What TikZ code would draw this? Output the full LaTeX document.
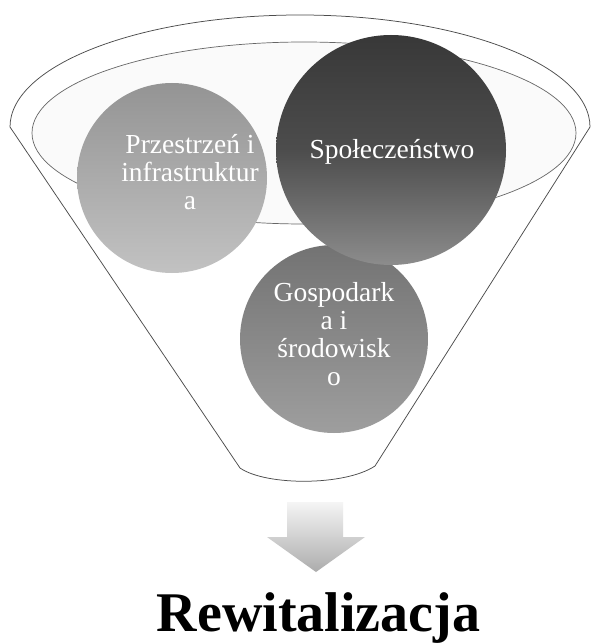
\documentclass[tikz,border=0pt]{standalone}
\usepackage{fontspec}
\setmainfont{Liberation Serif}
\begin{document}
\begin{tikzpicture}[x=1pt,y=-1pt,
  funnelline/.style={draw=black!70, line width=0.75pt},
  rimline/.style={draw=black!60, line width=0.7pt, fill=gray!4},
  ball/.style={circle, minimum size=#1, inner sep=0pt, draw=none},
  balltext/.style={text=white, font=\fontsize{27.5}{28}\selectfont, align=center, inner sep=0pt},
  titletext/.style={font=\bfseries\fontsize{56}{60}\selectfont, text=black, inner sep=0pt},
]
\useasboundingbox (0,0) rectangle (592,644);
\fill[white] (0,0) rectangle (592,644);
% funnel body
\coordinate (L) at (10,127);
\coordinate (R) at (590,127);
\coordinate (BL) at (240,468);
\coordinate (BR) at (375,466);
\draw[funnelline, fill=white] (L) arc[start angle=180, end angle=0, x radius=290pt, y radius=112pt]
  -- (BR) .. controls (345,486) and (266,486) .. (BL) -- cycle;
% rim
\draw[rimline] (304,133) ellipse [x radius=272pt, y radius=91pt];
% circles
\node[ball=188pt, top color=black!55, bottom color=black!38] (c3) at (334,339) {};
\node[ball=190pt, top color=black!42, bottom color=black!24] (c1) at (172,178) {};
\node[ball=230pt, top color=black!78, bottom color=black!45, middle color=black!70] (c2) at (391,150) {};
% texts
\node[balltext] (t1) at (190,172) {Przestrzeń i\\infrastruktur\\a};
\node[balltext] (t2) at (392,152) {Społeczeństwo};
\node[balltext] (t3) at (334,334) {Gospodark\\a i\\środowisk\\o};
% arrow
\shade[top color=gray!8, bottom color=gray!65]
  (287,502) -- (343,502) -- (343,537) -- (365,537) -- (316,572) -- (267,537) -- (287,537) -- cycle;
% title
\node[titletext, anchor=base] (title) at (318.5,631) {Rewitalizacja};
\end{tikzpicture}
\end{document}
